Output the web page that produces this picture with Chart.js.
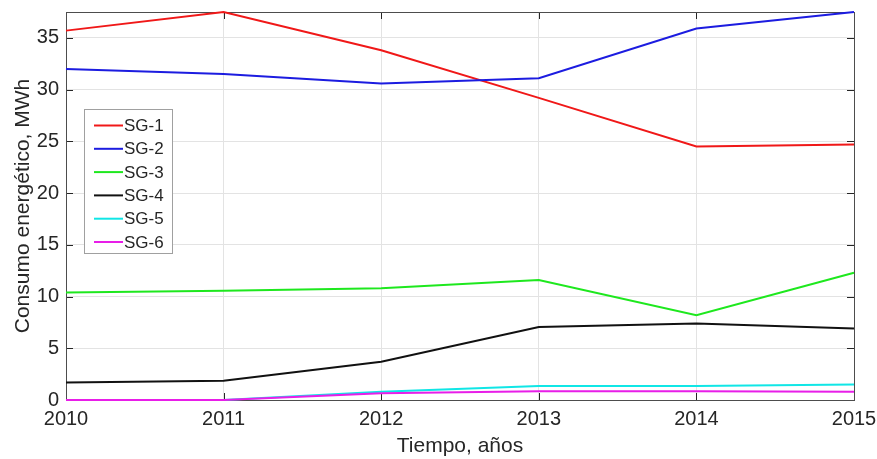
<!DOCTYPE html>
<html>
<head>
<meta charset="utf-8">
<script src="https://cdn.jsdelivr.net/npm/chart.js@4/dist/chart.umd.min.js"></script>
<style>
html,body{margin:0;padding:0;background:#fff;}
#wrap{width:877px;height:459px;position:relative;}
</style>
</head>
<body>
<div id="wrap"><canvas id="c" width="877" height="459"></canvas></div>
<script>
const years = [2010, 2011, 2012, 2013, 2014, 2015];
const sg1 = [35.7, 37.5, 33.8, 29.2, 24.5, 24.7];
const sg2 = [32.0, 31.5, 30.6, 31.1, 35.9, 37.5];
const sg3 = [10.4, 10.55, 10.8, 11.6, 8.2, 12.3];
const sg4 = [1.7, 1.85, 3.7, 7.05, 7.4, 6.9];
const sg5 = [0, 0, 0.8, 1.35, 1.35, 1.5];
const sg6 = [0, 0, 0.65, 0.85, 0.85, 0.8];
const seriesNames = ['SG-1', 'SG-2', 'SG-3', 'SG-4', 'SG-5', 'SG-6'];
const seriesColors = ['#f01818', '#1c1ce0', '#1ee81e', '#111111', '#10e6e6', '#e81ee8'];
const yTicks = [0, 5, 10, 15, 20, 25, 30, 35];

const allSeries = [sg1, sg2, sg3, sg4, sg5, sg6];
const datasets = allSeries.map((s, i) => ({
  label: seriesNames[i],
  data: s.map((v, j) => ({x: years[j], y: v})),
  borderColor: seriesColors[i],
  backgroundColor: seriesColors[i],
  borderWidth: 2,
  pointRadius: 0,
  tension: 0,
  fill: false,
  clip: 3,
  order: allSeries.length - i
}));

const textColor = '#262626';
const fontFam = '"Liberation Sans", Arial, sans-serif';

const boxPlugin = {
  id: 'boxPlugin',
  beforeDatasetsDraw(chart) {
    const {ctx, chartArea: a, scales} = chart;
    ctx.save();
    ctx.strokeStyle = '#262626';
    ctx.lineWidth = 1;
    ctx.beginPath();
    scales.x.ticks.forEach(t => {
      const px = Math.round(scales.x.getPixelForValue(t.value)) + 0.5;
      ctx.moveTo(px, a.bottom); ctx.lineTo(px, a.bottom - 7);
      ctx.moveTo(px, a.top); ctx.lineTo(px, a.top + 7);
    });
    scales.y.ticks.forEach(t => {
      const py = Math.round(scales.y.getPixelForValue(t.value)) + 0.5;
      ctx.moveTo(a.left, py); ctx.lineTo(a.left + 7, py);
      ctx.moveTo(a.right, py); ctx.lineTo(a.right - 7, py);
    });
    ctx.stroke();
    ctx.strokeStyle = '#4d4d4d';
    ctx.strokeRect(Math.round(a.left) + 0.5, Math.round(a.top) + 0.5, Math.round(a.right - a.left), Math.round(a.bottom - a.top));
    ctx.restore();
  },
  afterDatasetsDraw(chart) {
    const {ctx, chartArea: a} = chart;
    ctx.save();
    const lx = a.left + 18, ly = a.top + 97, lw = 88, rowH = 23.3, lh = 144;
    ctx.fillStyle = '#ffffff';
    ctx.fillRect(lx, ly, lw, lh);
    ctx.strokeStyle = '#a0a0a0';
    ctx.lineWidth = 1;
    ctx.strokeRect(Math.round(lx) + 0.5, Math.round(ly) + 0.5, lw, lh);
    ctx.font = '17px ' + fontFam;
    ctx.textBaseline = 'middle';
    ctx.textAlign = 'left';
    chart.data.datasets.forEach((d, i) => {
      const y = ly + 16.5 + i * rowH;
      ctx.strokeStyle = d.borderColor;
      ctx.lineWidth = 2;
      ctx.beginPath();
      ctx.moveTo(lx + 10, y); ctx.lineTo(lx + 39, y);
      ctx.stroke();
      ctx.fillStyle = textColor;
      ctx.fillText(d.label, lx + 40, y + 1);
    });
    ctx.restore();
  }
};

new Chart(document.getElementById('c'), {
  type: 'line',
  data: {datasets},
  options: {
    responsive: false,
    animation: false,
    layout: {padding: {top: 12, right: 23, left: 0, bottom: 0}},
    plugins: {legend: {display: false}, tooltip: {enabled: false}},
    scales: {
      x: {
        type: 'linear',
        min: 2010, max: 2015,
        afterBuildTicks: (s) => { s.ticks = years.map(v => ({value: v})); },
        afterFit: (s) => { s.height = 59; s.paddingLeft = 0; s.paddingRight = 0; },
        grid: {color: '#e3e3e3', drawTicks: false, lineWidth: 1},
        border: {display: false},
        ticks: {
          color: textColor, font: {size: 20, family: fontFam}, padding: 7,
          maxRotation: 0, autoSkip: false,
          callback: (v) => String(v)
        },
        title: {display: true, text: 'Tiempo, años', color: textColor, font: {size: 21, family: fontFam}, padding: {top: 3, bottom: 0}}
      },
      y: {
        min: 0, max: 37.5,
        afterBuildTicks: (s) => { s.ticks = yTicks.map(v => ({value: v})); },
        afterFit: (s) => { s.width = 66; s.paddingTop = 0; s.paddingBottom = 0; },
        grid: {color: '#e3e3e3', drawTicks: false, lineWidth: 1},
        border: {display: false},
        ticks: {color: textColor, font: {size: 20, family: fontFam}, padding: 7},
        title: {display: true, text: 'Consumo energético, MWh', color: textColor, font: {size: 21, family: fontFam}, padding: {top: 11, bottom: 0}}
      }
    }
  },
  plugins: [boxPlugin]
});
</script>
</body>
</html>
